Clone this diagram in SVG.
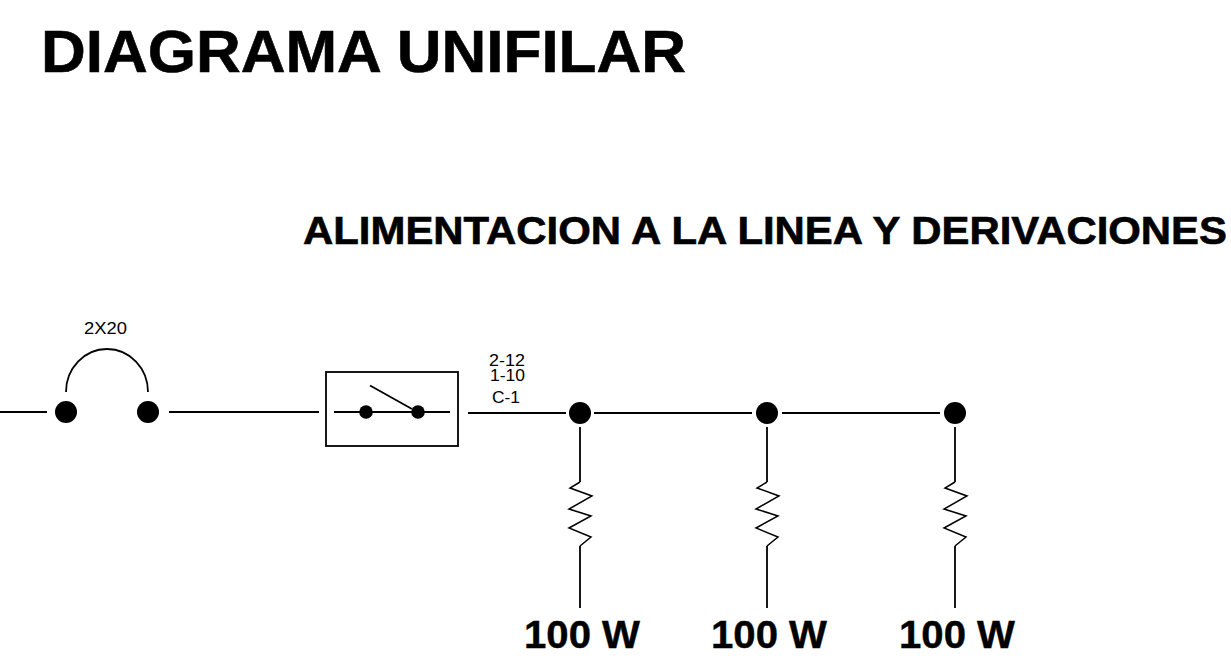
<svg xmlns="http://www.w3.org/2000/svg" width="1231" height="666" viewBox="0 0 1231 666">
<style>
text{font-family:"Liberation Sans",Arial,sans-serif;fill:#000}
.h{font-weight:bold;stroke:#000;stroke-width:.6}
.s{font-size:16.500px}
.w{font-size:38px;font-weight:bold;stroke:#000;stroke-width:.4}
.l{fill:none;stroke:#000;stroke-width:1.800}
.t{stroke-width:1.500}
</style>
<defs>
<path id="r" class="l t" d="M0 482L-10 488L12 496L-11 509L11 516L-11 528L11 537L0 546"/>
</defs>
<rect width="1231" height="666" fill="#fff"/>
<g id="titulos">
<text id="titulo" class="h" x="41" y="72" font-size="60" textLength="645" lengthAdjust="spacingAndGlyphs">DIAGRAMA UNIFILAR</text>
<text id="subtitulo" class="h" x="303" y="244" font-size="38" textLength="924" lengthAdjust="spacingAndGlyphs">ALIMENTACION A LA LINEA Y DERIVACIONES</text>
</g>
<g id="conectores">
<path class="l" d="M0 412H47M169 412H319M468 413H566M594 413H752M782 413H940M580 427V482M580 546V608M767 427V482M767 546V608M955 427V482M955 546V608"/>
</g>
<g id="interruptor-termico">
<path class="l" d="M66 392A41 43 0 0 1 148 392"/>
<circle cx="66" cy="412" r="11"/>
<circle cx="148" cy="412" r="11"/>
<text class="s" x="84" y="333.500" textLength="43" lengthAdjust="spacingAndGlyphs">2X20</text>
</g>
<g id="interruptor">
<rect class="l" x="326" y="372" width="132" height="74"/>
<path class="l" d="M334 412H450M370 385.500L412 409"/>
<circle cx="366" cy="412" r="6.800"/>
<circle cx="418" cy="412" r="6.800"/>
</g>
<g id="cable-labels">
<text class="s" x="489" y="366" textLength="36" lengthAdjust="spacingAndGlyphs">2-12</text>
<text class="s" x="490" y="380.500" textLength="35" lengthAdjust="spacingAndGlyphs">1-10</text>
<text class="s" x="492" y="403" textLength="28" lengthAdjust="spacingAndGlyphs">C-1</text>
</g>
<g id="carga-1">
<circle cx="580" cy="413" r="11"/>
<use href="#r" x="580"/>
<text class="w" x="524" y="648" textLength="116" lengthAdjust="spacingAndGlyphs">100 W</text>
</g>
<g id="carga-2">
<circle cx="767" cy="413" r="11"/>
<use href="#r" x="767"/>
<text class="w" x="711" y="648" textLength="116" lengthAdjust="spacingAndGlyphs">100 W</text>
</g>
<g id="carga-3">
<circle cx="955" cy="413" r="11"/>
<use href="#r" x="955"/>
<text class="w" x="899" y="648" textLength="116" lengthAdjust="spacingAndGlyphs">100 W</text>
</g>
</svg>
